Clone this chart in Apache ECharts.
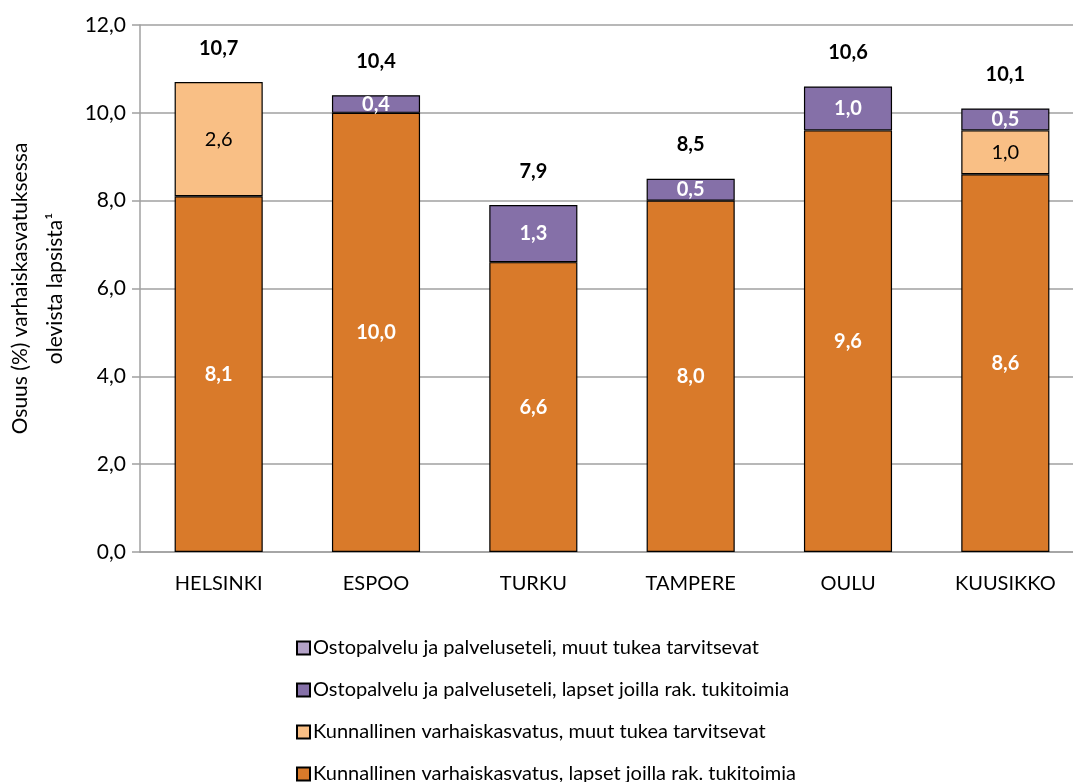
<!DOCTYPE html>
<html>
<head>
<meta charset="utf-8">
<script src="https://cdn.jsdelivr.net/npm/echarts@6/dist/echarts.min.js"></script>
<style>
  html, body { margin: 0; padding: 0; background: #ffffff; }
  #chart { width: 1073px; height: 782px; }
</style>
</head>
<body>
<div id="chart"></div>
<script>
// Data
const cities = ['HELSINKI', 'ESPOO', 'TURKU', 'TAMPERE', 'OULU', 'KUUSIKKO'];
const kunnRak = [8.1, 10.0, 6.6, 8.0, 9.6, 8.6];
const kunnMuut = [2.6, null, null, null, null, 1.0];
const ostoRak = [null, 0.4, 1.3, 0.5, 1.0, 0.5];
const ostoMuut = [null, null, null, null, null, null];
const totals = [10.7, 10.4, 7.9, 8.5, 10.6, 10.1];
const yTicks = [0, 2, 4, 6, 8, 10, 12];

const fontFamily = 'Lato, "Noto Sans", sans-serif';
const fmt = v => (v == null ? '' : Number(v).toFixed(1).replace('.', ','));

function segment(name, data, color, labelColor, bold) {
    return {
        name: name,
        type: 'bar',
        stack: 'total',
        data: data,
        barWidth: '56%',
        itemStyle: { color: color, borderColor: '#000000', borderWidth: 1.2 },
        label: {
            show: true,
            position: 'inside',
            color: labelColor,
            fontFamily: fontFamily,
            fontSize: 20,
            fontWeight: bold ? 'bold' : 'normal',
            formatter: p => fmt(p.value)
        },
        silent: true
    };
}

const chart = echarts.init(document.getElementById('chart'));

const option = {
    animation: false,
    textStyle: { fontFamily: fontFamily },
    grid: { left: 140, right: -11, top: 25, bottom: 230, outerBoundsMode: 'none', containLabel: false },
    legend: {
        orient: 'vertical',
        left: 291,
        top: 633,
        height: 300,
        itemWidth: 13,
        itemHeight: 13,
        itemGap: 22,
        icon: 'rect',
        textStyle: { fontFamily: fontFamily, fontSize: 20, color: '#000000', padding: [0, 0, 0, -2] },
        data: [
            'Ostopalvelu ja palveluseteli, muut tukea tarvitsevat',
            'Ostopalvelu ja palveluseteli, lapset joilla rak. tukitoimia',
            'Kunnallinen varhaiskasvatus, muut tukea tarvitsevat',
            'Kunnallinen varhaiskasvatus, lapset joilla rak. tukitoimia'
        ]
    },
    xAxis: {
        type: 'category',
        data: cities,
        axisLine: { lineStyle: { color: '#a0a0a0', width: 1.5 } },
        axisTick: { show: false },
        axisLabel: { color: '#000000', fontSize: 20, fontFamily: fontFamily, margin: 22 }
    },
    yAxis: {
        type: 'value',
        min: yTicks[0],
        max: yTicks[yTicks.length - 1],
        interval: 2,
        name: 'Osuus (%) varhaiskasvatuksessa\nolevista lapsista\u00b9',
        nameLocation: 'middle',
        nameGap: 67,
        nameRotate: 90,
        nameTextStyle: { color: '#000000', fontSize: 21, fontFamily: fontFamily, lineHeight: 35 },
        axisLine: { show: true, lineStyle: { color: '#a0a0a0', width: 1.5 } },
        axisTick: { show: true, length: 8, lineStyle: { color: '#a0a0a0', width: 1.5 } },
        axisLabel: { color: '#000000', fontSize: 21, fontFamily: fontFamily, margin: 14, formatter: v => fmt(v) },
        splitLine: { lineStyle: { color: '#a0a0a0', width: 1.5 } }
    },
    series: [
        segment('Kunnallinen varhaiskasvatus, lapset joilla rak. tukitoimia', kunnRak, '#d97a2a', '#ffffff', true),
        segment('Kunnallinen varhaiskasvatus, muut tukea tarvitsevat', kunnMuut, '#f9bf85', '#000000', false),
        segment('Ostopalvelu ja palveluseteli, lapset joilla rak. tukitoimia', ostoRak, '#8570a8', '#ffffff', true),
        segment('Ostopalvelu ja palveluseteli, muut tukea tarvitsevat', ostoMuut, '#b3a2c7', '#000000', false),
        {
            name: 'Yhteensä',
            type: 'bar',
            data: totals,
            barWidth: '56%',
            barGap: '-100%',
            itemStyle: { color: 'rgba(0,0,0,0)' },
            label: {
                show: true,
                position: 'top',
                distance: 24,
                color: '#000000',
                fontFamily: fontFamily,
                fontSize: 20,
                fontWeight: 'bold',
                formatter: p => fmt(p.value)
            },
            silent: true,
            z: 1
        }
    ]
};

chart.setOption(option);
</script>
</body>
</html>
